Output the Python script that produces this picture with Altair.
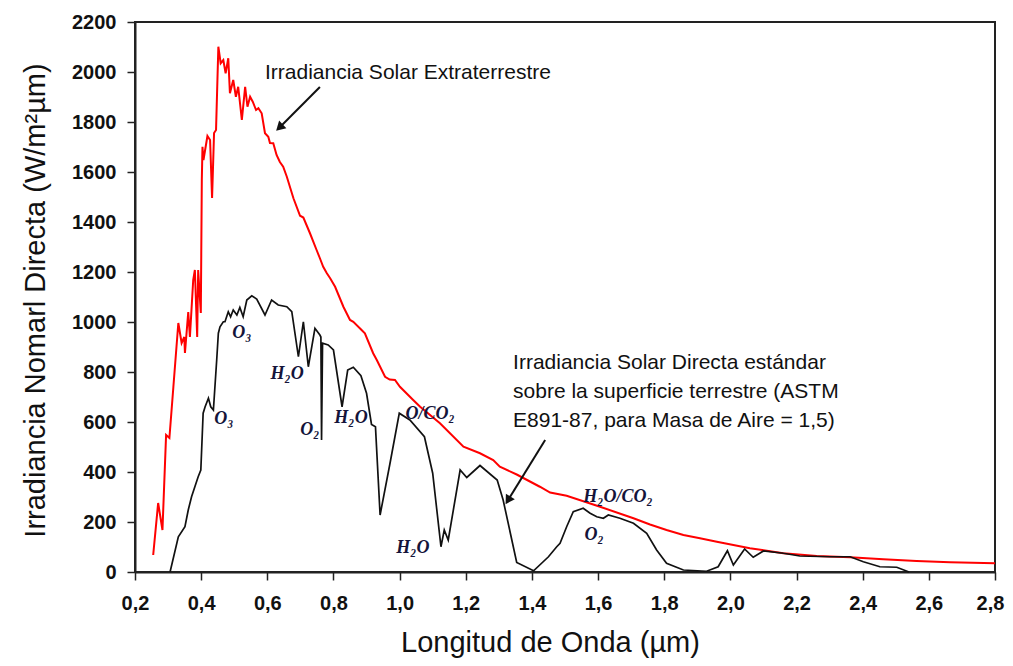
import altair as alt
import pandas as pd

# Extraterrestrial solar irradiance (red)
ext_wl = [0.255, 0.270, 0.283, 0.294, 0.304, 0.316, 0.331, 0.341, 0.349, 0.351, 0.361, 0.366, 0.376, 0.381,
          0.388, 0.391, 0.399, 0.402, 0.404, 0.407, 0.419, 0.427, 0.433, 0.439, 0.445, 0.452, 0.459, 0.467,
          0.474, 0.482, 0.487, 0.497, 0.505, 0.512, 0.523, 0.533, 0.540, 0.548, 0.556, 0.566, 0.573, 0.583,
          0.593, 0.603, 0.608, 0.618, 0.628, 0.638, 0.648, 0.659, 0.679, 0.699, 0.709, 0.729, 0.749, 0.759,
          0.769, 0.780, 0.790, 0.805, 0.830, 0.850, 0.860, 0.885, 0.895, 0.920, 0.931, 0.956, 0.970, 0.986,
          1.001, 1.041, 1.062, 1.122, 1.193, 1.243, 1.283, 1.303, 1.354, 1.424, 1.455, 1.505, 1.606, 1.707,
          1.757, 1.807, 1.858, 1.908, 1.959, 2.059, 2.160, 2.261, 2.362, 2.462, 2.563, 2.664, 2.800]
ext_val = [68, 276, 168, 548, 536, 740, 996, 916, 940, 876, 1040, 940, 1168, 1208,
           940, 1208, 1036, 1568, 1701, 1648, 1744, 1728, 1496, 1756, 1768, 2101, 2035, 2048,
           1995, 2055, 1915, 1968, 1901, 1941, 1808, 1941, 1861, 1901, 1881, 1848, 1855, 1835,
           1755, 1741, 1716, 1715, 1668, 1640, 1621, 1581, 1495, 1425, 1418, 1355, 1288, 1255,
           1221, 1195, 1175, 1141, 1061, 1008, 1001, 968, 955, 875, 848, 781, 770, 768,
           741, 688, 661, 595, 501, 475, 448, 421, 390, 341, 318, 305, 261, 215,
           190, 168, 148, 135, 121, 95, 75, 64, 59, 51, 44, 39, 35]

# Direct normal irradiance at ground, ASTM E891-87, AM 1.5 (black)
dir_wl = [0.306, 0.331, 0.351, 0.361, 0.371, 0.391, 0.399, 0.406, 0.412, 0.422, 0.429, 0.437, 0.447, 0.452,
          0.457, 0.467, 0.472, 0.482, 0.489, 0.497, 0.508, 0.517, 0.527, 0.538, 0.553, 0.568, 0.593, 0.613,
          0.633, 0.659, 0.674, 0.694, 0.709, 0.724, 0.744, 0.759, 0.762, 0.764, 0.767, 0.784, 0.800, 0.826,
          0.843, 0.860, 0.883, 0.900, 0.915, 0.927, 0.941, 0.971, 0.999, 1.031, 1.075, 1.100, 1.125, 1.135,
          1.147, 1.183, 1.203, 1.243, 1.295, 1.313, 1.354, 1.405, 1.450, 1.475, 1.485, 1.505, 1.525, 1.555,
          1.576, 1.596, 1.616, 1.631, 1.666, 1.707, 1.747, 1.777, 1.807, 1.858, 1.928, 1.963, 1.991, 2.009,
          2.043, 2.069, 2.100, 2.160, 2.210, 2.301, 2.362, 2.402, 2.452, 2.503, 2.540]
dir_val = [0, 141, 181, 248, 301, 381, 408, 635, 661, 695, 661, 648, 848, 955,
           981, 1001, 1001, 1041, 1021, 1048, 1028, 1058, 1021, 1088, 1105, 1092, 1028, 1088,
           1068, 1061, 1041, 861, 1001, 821, 975, 948, 940, 528, 915, 908, 888, 661,
           808, 819, 785, 715, 590, 581, 228, 435, 635, 608, 541, 395, 101, 168,
           128, 408, 378, 426, 368, 288, 38, 5, 61, 101, 115, 181, 241, 255,
           235, 221, 215, 228, 215, 195, 155, 88, 35, 8, 3, 21, 85, 28,
           92, 59, 84, 75, 64, 61, 61, 41, 21, 19, 0]

# Absorption band labels
band_text = ["O₃", "O₃", "H₂O", "O₂", "H₂O", "O/CO₂", "H₂O", "H₂O/CO₂", "O₂"]
band_wl = [0.523, 0.469, 0.660, 0.729, 0.853, 1.092, 1.040, 1.660, 1.588]
band_val = [956, 612, 792, 568, 616, 632, 96, 300, 150]

# Annotation texts
note_text = ["Irradiancia Solar Extraterrestre",
             "Irradiancia Solar Directa estándar",
             "sobre la superficie terrestre (ASTM",
             "E891-87, para Masa de Aire = 1,5)"]
note_wl = [0.593, 1.343, 1.343, 1.343]
note_val = [1996, 836, 720, 604]

# Arrows (start -> tip)
arrow_wl0 = [0.759, 1.440]
arrow_val0 = [1940, 528]
arrow_wl1 = [0.640, 1.330]
arrow_val1 = [1782, 292]
arrow_angle = [226.5, 211.7]

x_ticks = [round(0.2 + 0.1 * i, 1) for i in range(27)]
y_ticks = [100 * i for i in range(23)]

ext_df = pd.DataFrame({"wl": ext_wl, "val": ext_val})
dir_df = pd.DataFrame({"wl": dir_wl, "val": dir_val})
band_df = pd.DataFrame({"wl": band_wl, "val": band_val, "t": band_text})
note_df = pd.DataFrame({"wl": note_wl, "val": note_val, "t": note_text})
arrow_df = pd.DataFrame({"wl": arrow_wl0, "val": arrow_val0, "wl2": arrow_wl1,
                         "val2": arrow_val1, "ang": arrow_angle})

xscale = alt.Scale(domain=[0.2, 2.8], nice=False, zero=False)
yscale = alt.Scale(domain=[0, 2200], nice=False)

xaxis = alt.Axis(
    values=x_ticks,
    labelExpr="round(datum.value*10) % 2 == 0 ? replace(format(datum.value, '.1f'), '.', ',') : ''",
    tickSize={"condition": {"test": "round(datum.value*10) % 2 == 0", "value": 8}, "value": 6},
    labelOffset={"condition": {"test": "datum.value > 2.75", "value": -5}, "value": 0},
    title="Longitud de Onda (µm)", titleY=70, titleX=415, titleBaseline="middle",
    labelPadding=13, labelOverlap=False, labelFlush=False, grid=False,
)
yaxis = alt.Axis(
    values=y_ticks,
    labelExpr="datum.value % 200 == 0 ? format(datum.value, 'd') : ''",
    tickSize={"condition": {"test": "datum.value % 200 == 0", "value": 8}, "value": 5},
    title="Irradiancia Nomarl Directa (W/m²µm)", titleX=-100, titleY=278, titleBaseline="middle",
    labelPadding=11, labelOverlap=False, labelFlush=False, grid=False,
)

red = alt.Chart(ext_df).mark_line(color="#ff0000", strokeWidth=2).encode(
    x=alt.X("wl:Q", scale=xscale, axis=xaxis),
    y=alt.Y("val:Q", scale=yscale, axis=yaxis),
    order="wl:Q",
)
black = alt.Chart(dir_df).mark_line(color="#111111", strokeWidth=1.7).encode(
    x=alt.X("wl:Q", scale=xscale),
    y=alt.Y("val:Q", scale=yscale),
    order="wl:Q",
)
bands = alt.Chart(band_df).mark_text(
    font="Liberation Serif, DejaVu Serif", fontStyle="italic", fontWeight="bold",
    fontSize=18, color="#14143a", align="center", baseline="middle",
).encode(x=alt.X("wl:Q", scale=xscale), y=alt.Y("val:Q", scale=yscale), text="t:N")
notes = alt.Chart(note_df).mark_text(
    font="Liberation Sans", fontSize=21, color="#111111", align="left", baseline="middle",
).encode(x=alt.X("wl:Q", scale=xscale), y=alt.Y("val:Q", scale=yscale), text="t:N")
arrow_lines = alt.Chart(arrow_df).mark_rule(color="#111111", strokeWidth=2).encode(
    x=alt.X("wl:Q", scale=xscale), y=alt.Y("val:Q", scale=yscale), x2="wl2:Q", y2="val2:Q",
)
arrow_heads = alt.Chart(arrow_df).mark_point(
    shape="triangle", filled=True, color="#111111", size=110, opacity=1,
).encode(x=alt.X("wl2:Q", scale=xscale), y=alt.Y("val2:Q", scale=yscale), angle=alt.Angle("ang:Q", scale=None))

chart = alt.layer(red, black, bands, notes, arrow_lines, arrow_heads).properties(
    width=860, height=550,
    padding={"left": 127, "top": 14, "right": 10, "bottom": 86},
    autosize=alt.AutoSizeParams(type="none"),
).configure_view(
    stroke="#222222", strokeWidth=2,
).configure_axis(
    domainColor="#222222", domainWidth=2, tickColor="#222222", tickWidth=1.5,
    labelFont="Liberation Sans", labelFontWeight="bold", labelFontSize=20, labelColor="#111111",
    titleFont="Liberation Sans", titleFontWeight="normal", titleFontSize=29, titleColor="#111111",
)

chart.save("out.html", embed_options={"renderer": "svg", "actions": False})
